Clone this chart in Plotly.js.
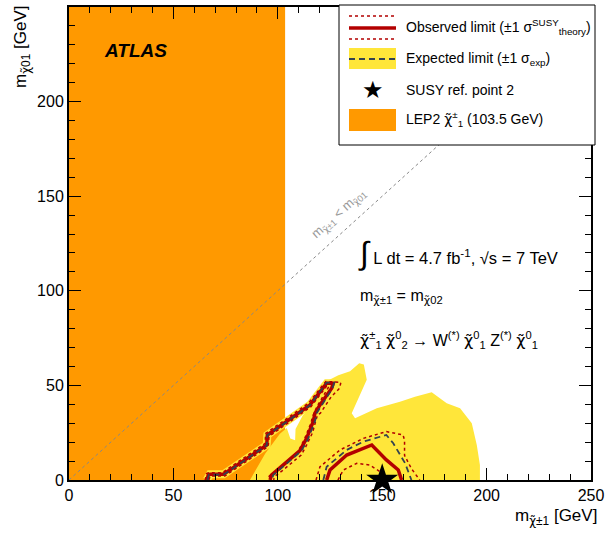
<!DOCTYPE html>
<html><head><meta charset="utf-8">
<script src="https://cdn.plot.ly/plotly-3.0.1.min.js"></script>
<style>body{margin:0;background:#fff}</style>
</head><body><div id="plot" style="width:613px;height:541px"></div>
<script>
// LEP2 chargino limit region
const lepX = [0, 103.5, 103.5, 0];
const lepY = [0, 0, 250, 250];
// Expected limit +-1 sigma band (yellow)
const bandX = [86.7, 94, 101, 104.3, 106, 108.3, 108.5, 112, 120.2, 122.6, 129, 134.6, 139, 141.2, 142.6, 135.4, 137, 147.4, 158.5, 165.7, 173.7, 180.9, 187.3, 192.9, 195.3, 196.8, 196.8];
const bandY = [0, 14, 24.5, 27.5, 22, 21, 27, 34.2, 43.9, 51.8, 55.3, 57.5, 61.7, 61, 53, 35.3, 32.6, 37.9, 41.4, 44, 46.4, 40.6, 37.9, 30, 18.5, 7.9, 0];
// Observed limit (strip)
const obsX = [66, 66.7, 67.5, 74, 94.7, 95, 115.4, 123.4, 126.6, 125.8, 120.2, 117.8, 117, 113.8, 110.6, 101, 97, 96.3];
const obsY = [0, 2.6, 3, 3, 18.5, 23.8, 39.7, 51.2, 51.2, 48.5, 39.7, 35.3, 31, 22, 15.5, 6.2, 2.6, 0];
// Observed limit (island)
const obs2X = [123.4, 125, 133, 140, 145, 152, 157.7, 159.3];
const obs2Y = [0, 5.3, 13.2, 16.5, 18.5, 10.6, 5.3, 0];
// Theory +1 sigma (strip + island)
const thUpX = [65.2, 65.9, 66.8, 73.3, 93.9, 94.2, 114.6, 123, 130.2, 129.6, 125.6, 120.4, 119, 116.6, 113.4, 111.2, 102.2, 98.4, 98];
const thUpY = [0, 3.4, 3.8, 3.8, 19.3, 24.6, 40.5, 52.1, 51.6, 48.5, 44, 35.3, 34.4, 24.9, 17.6, 13.2, 5, 1.8, 0];
const thUp2X = [118.3, 120.2, 129.8, 141, 152, 160, 160.7, 160.7, 164, 168];
const thUp2Y = [0, 7, 15.9, 22, 25.6, 23.8, 21, 13, 6, 0];
// Theory -1 sigma (strip + island)
const thDnX = [67, 67.6, 74.6, 95.4, 95.8, 115.9, 123.4, 124.6, 119, 116.6, 116, 112.8, 109.6, 100.2, 96, 95.3];
const thDnY = [0, 2.1, 2.1, 17.7, 23, 38.8, 49.6, 49.6, 39.3, 33.5, 30.5, 21.7, 14.8, 5.5, 2.2, 0];
const thDn2X = [128.8, 131.4, 137.8, 144, 149, 150.5];
const thDn2Y = [0, 5.3, 8.8, 7.9, 4.4, 0];
// Expected limit (strip + island)
const expX = [66.3, 67, 74, 94.7, 95, 115.4, 123.4, 127, 126.2, 121, 118.6, 117.8, 114.6, 111.4, 101.8, 97.8, 97.2];
const expY = [0, 2.8, 2.8, 18.3, 23.6, 39.5, 51.5, 51.5, 48.5, 39.7, 35.3, 31, 22, 15.5, 6.2, 2.6, 0];
const exp2X = [121.8, 123.4, 133, 141, 152, 155.3, 161, 164];
const exp2Y = [0, 7, 15.9, 20.3, 23.8, 19.4, 8.8, 0];
// SUSY reference point 2
const refX = [150];
const refY = [0];
// Kinematic boundary
const diagX = [0, 250];
const diagY = [0, 250];
const xTicks = [0, 50, 100, 150, 200, 250];
const yTicks = [0, 50, 100, 150, 200, 250];

const RED = '#b30000', YEL = '#ffe63a', ORA = '#ff9900', DASH = '#34434f';
const FONT = 'Liberation Sans, Arial, Helvetica, sans-serif';

const traces = [
  {x: lepX, y: lepY, type: 'scatter', mode: 'lines', fill: 'toself', fillcolor: ORA, line: {width: 0}, hoverinfo: 'skip'},
  {x: bandX, y: bandY, type: 'scatter', mode: 'lines', fill: 'toself', fillcolor: YEL, line: {width: 0, color: YEL}, hoverinfo: 'skip'},
  {x: obsX.slice(0, 9), y: obsY.slice(0, 9), type: 'scatter', mode: 'lines', line: {color: YEL, width: 8}, hoverinfo: 'skip'},
  {x: diagX, y: diagY, type: 'scatter', mode: 'lines', line: {color: '#888', width: 1, dash: 'dot'}, hoverinfo: 'skip'},
  {x: thUpX, y: thUpY, type: 'scatter', mode: 'lines', line: {color: RED, width: 1.5, dash: 'dot'}},
  {x: thUp2X, y: thUp2Y, type: 'scatter', mode: 'lines', line: {color: RED, width: 1.5, dash: 'dot'}},
  {x: thDnX, y: thDnY, type: 'scatter', mode: 'lines', line: {color: RED, width: 1.5, dash: 'dot'}},
  {x: thDn2X, y: thDn2Y, type: 'scatter', mode: 'lines', line: {color: RED, width: 1.5, dash: 'dot'}},
  {x: obsX, y: obsY, type: 'scatter', mode: 'lines', line: {color: RED, width: 3.5}},
  {x: obs2X, y: obs2Y, type: 'scatter', mode: 'lines', line: {color: RED, width: 3.5}},
  {x: expX, y: expY, type: 'scatter', mode: 'lines', line: {color: DASH, width: 1.8, dash: '6px,4px'}},
  {x: exp2X, y: exp2Y, type: 'scatter', mode: 'lines', line: {color: DASH, width: 1.8, dash: '6px,4px'}},
  {x: refX, y: refY, type: 'scatter', mode: 'markers', marker: {symbol: 'star', size: 24, color: '#000'}, cliponaxis: false}
];

const px2x = p => (p - 69) / 522;
const py2y = p => (480 - p) / 473;

const shapes = [
  {type: 'rect', xref: 'paper', yref: 'paper', x0: px2x(339), x1: px2x(595), y0: py2y(145), y1: py2y(5), line: {color: '#000', width: 1}, fillcolor: '#fff', layer: 'above'},
  {type: 'line', xref: 'paper', yref: 'paper', x0: px2x(349), x1: px2x(396), y0: py2y(16), y1: py2y(16), line: {color: RED, width: 1.5, dash: 'dot'}, layer: 'above'},
  {type: 'line', xref: 'paper', yref: 'paper', x0: px2x(349), x1: px2x(396), y0: py2y(28), y1: py2y(28), line: {color: RED, width: 3.5}, layer: 'above'},
  {type: 'line', xref: 'paper', yref: 'paper', x0: px2x(349), x1: px2x(396), y0: py2y(39), y1: py2y(39), line: {color: RED, width: 1.5, dash: 'dot'}, layer: 'above'},
  {type: 'rect', xref: 'paper', yref: 'paper', x0: px2x(349), x1: px2x(396), y0: py2y(69), y1: py2y(48), line: {width: 0}, fillcolor: YEL, layer: 'above'},
  {type: 'line', xref: 'paper', yref: 'paper', x0: px2x(349), x1: px2x(396), y0: py2y(59), y1: py2y(59), line: {color: DASH, width: 1.8, dash: '6px,4px'}, layer: 'above'},
  {type: 'rect', xref: 'paper', yref: 'paper', x0: px2x(349), x1: px2x(396), y0: py2y(131), y1: py2y(109), line: {width: 0}, fillcolor: ORA, layer: 'above'}
];

const chi = '<span style="font-family:DejaVu Sans">χ̃</span>';
const ann = (text, x, y, opts) => Object.assign({text: text, xref: 'paper', yref: 'paper', x: x, y: y, showarrow: false, xanchor: 'left', yanchor: 'middle', font: {family: FONT, size: 14, color: '#000'}}, opts || {});

const annotations = [
  ann('Observed limit (±1 σ<sup>SUSY</sup><sub>theory</sub>)', px2x(404), py2y(27)),
  ann('Expected limit (±1 σ<sub>exp</sub>)', px2x(404), py2y(59)),
  ann('★', px2x(373), py2y(90), {xanchor: 'center', font: {family: 'DejaVu Sans', size: 24, color: '#000'}}),
  ann('SUSY ref. point 2', px2x(404), py2y(90)),
  ann('LEP2 ' + chi + '<sup>±</sup><sub>1</sub> (103.5 GeV)', px2x(404), py2y(119)),
  ann('<b><i>ATLAS</i></b>', px2x(102), py2y(50), {font: {family: FONT, size: 19, color: '#000'}}),
  ann('<span style="font-size:32px">∫</span> L dt = 4.7 fb<sup>-1</sup>, √s = 7 TeV', px2x(356), py2y(253), {font: {family: FONT, size: 16.5, color: '#000'}}),
  ann('m<sub>' + chi + '±1</sub> = m<sub>' + chi + '02</sub>', px2x(358), py2y(297), {font: {family: FONT, size: 16, color: '#000'}}),
  ann(chi + '<sup>±</sup><sub>1</sub> ' + chi + '<sup>0</sup><sub>2</sub> → W<sup>(*)</sup> ' + chi + '<sup>0</sup><sub>1</sub> Z<sup>(*)</sup> ' + chi + '<sup>0</sup><sub>1</sub>', px2x(358), py2y(340), {font: {family: FONT, size: 16, color: '#000'}}),
  ann('m<sub>' + chi + '±1</sub> < m<sub>' + chi + '01</sub>', 129.3, 141, {xref: 'x', yref: 'y', xanchor: 'center', textangle: -42, font: {family: FONT, size: 13, color: '#999'}}),
  ann('m<sub>' + chi + '±1</sub> [GeV]', px2x(599), py2y(517), {xanchor: 'right', font: {family: FONT, size: 17, color: '#000'}}),
  ann('m<sub>' + chi + '01</sub> [GeV]', px2x(22), py2y(4), {xanchor: 'center', yanchor: 'top', textangle: -90, font: {family: FONT, size: 17, color: '#000'}})
];

const axisBase = {
  range: [0, 250], showgrid: false, zeroline: false, showline: true, linecolor: '#000', linewidth: 2,
  mirror: 'ticks', ticks: 'inside', ticklen: 12, tickwidth: 1, tickcolor: '#000',
  tickfont: {family: FONT, size: 16, color: '#000'},
  minor: {dtick: 10, ticks: 'inside', ticklen: 6, tickwidth: 1, tickcolor: '#000'}
};

const layout = {
  width: 613, height: 541,
  margin: {l: 69, r: 22, t: 7, b: 61},
  paper_bgcolor: '#fff', plot_bgcolor: '#fff',
  showlegend: false,
  xaxis: Object.assign({}, axisBase, {tickvals: xTicks, ticktext: xTicks.map(String)}),
  yaxis: Object.assign({}, axisBase, {tickvals: yTicks, ticktext: yTicks.map(String)}),
  shapes: shapes,
  annotations: annotations
};

Plotly.newPlot('plot', traces, layout, {staticPlot: true});
</script>
</body></html>
